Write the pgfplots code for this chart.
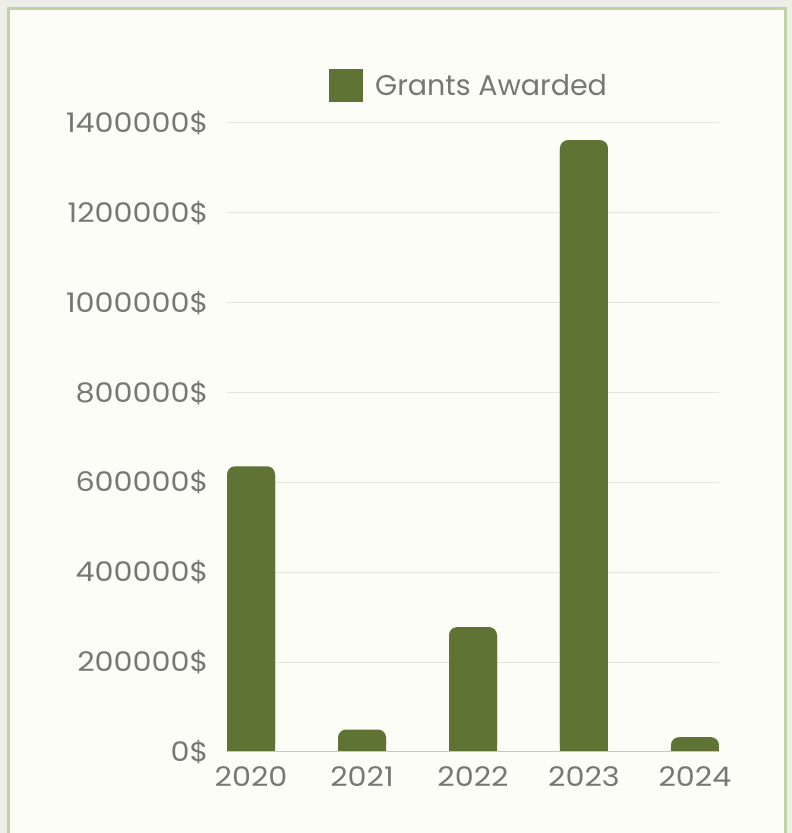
\documentclass[border=0pt]{standalone}
\usepackage{pgfplots}
\pgfplotsset{compat=1.18}
\usepackage{fontspec}
\setmainfont{Poppins}
\newfontfamily\tickfont[FakeStretch=1.12]{Poppins}
\definecolor{bar}{HTML}{5F7434}
\definecolor{txt}{HTML}{777777}
\definecolor{panel}{HTML}{FDFDF8}
\definecolor{outer}{HTML}{EEEEE8}
\definecolor{frame}{HTML}{BFD4A4}
\definecolor{gridc}{HTML}{E4E4E0}
\begin{document}
\begin{tikzpicture}[x=1pt,y=1pt]
\useasboundingbox (0,0) rectangle (792,833);
\fill[outer] (0,0) rectangle (792,833);
\fill[panel] (8.5,-5) rectangle (785.5,824.5);
\draw[frame,line width=3pt] (8.5,-5) -- (8.5,824.5) -- (785.5,824.5) -- (785.5,-5);
\begin{axis}[
  at={(227pt,81pt)}, anchor=south west,
  scale only axis, width=492pt, height=629pt,
  xmin=-0.2167, xmax=4.2167, ymin=0, ymax=1400000,
  ybar, bar width=48pt, bar shift=0pt,
  axis line style={draw=none},
  scaled y ticks=false,
  ytick={0,200000,...,1400000},
  yticklabels={0\$,200000\$,400000\$,600000\$,800000\$,1000000\$,1200000\$,1400000\$},
  xtick={0,1,2,3,4}, xticklabels={2020,2021,2022,2023,2024},
  major tick length=0pt,
  xmajorgrids=false, ymajorgrids=true,
  grid style={draw=gridc, line width=1pt},
  tick label style={font=\tickfont\fontsize{27}{32}\selectfont, text=txt},
  yticklabel style={xshift=-15pt},
  xticklabel style={yshift=-11pt},
  clip=false,
  legend style={at={(0.492,1.060)}, anchor=center, draw=none, fill=none,
    font=\fontsize{28.5}{32}\selectfont, text=txt},
  legend image code/.code={\fill[bar, sharp corners] (0pt,-16.5pt) rectangle (34pt,16.5pt);},
  legend cell align=left,
]
\addplot[fill=bar, draw=none, rounded corners=8pt] coordinates {(0,636000) (1,50000) (2,278000) (3,1362000) (4,33000)};
\addlegendentry{\hspace{10pt}Grants Awarded}
\addplot[fill=bar, draw=none, forget plot, y filter/.expression={y-20000}] coordinates {(0,636000) (1,50000) (2,278000) (3,1362000) (4,33000)};
\draw[black!22, line width=1pt] (axis cs:-0.2167,0) -- (axis cs:4.2167,0);
\end{axis}
\end{tikzpicture}
\end{document}
